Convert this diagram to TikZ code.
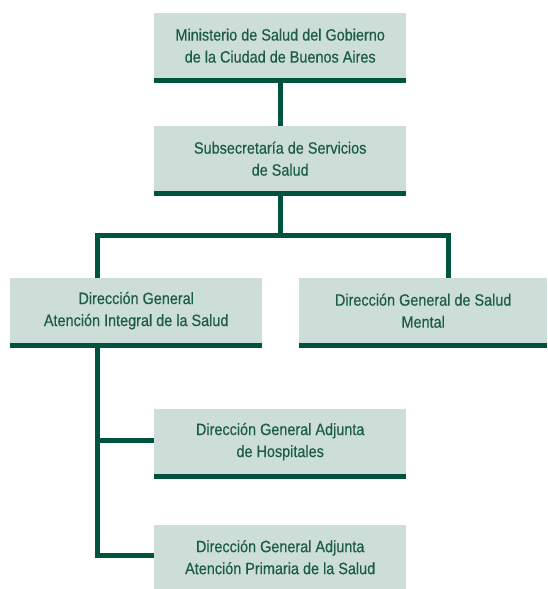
\documentclass[tikz,border=0pt]{standalone}
\usepackage{fontspec}
\setmainfont{Liberation Sans}[FakeStretch=0.88,FakeBold=0.4]
\definecolor{linegreen}{HTML}{00543F}
\definecolor{boxfill}{HTML}{CDDDD7}
\definecolor{textgreen}{HTML}{1A5C48}
\begin{document}
\begin{tikzpicture}[x=1pt,y=-1pt,
  orgbox/.style={fill=boxfill, inner sep=0pt, minimum width=252pt, minimum height=65pt,
    align=center, text=textgreen, font=\fontsize{16.4}{22}\selectfont, anchor=north west},
  bar/.style={draw=linegreen, line width=5pt},
  conn/.style={draw=linegreen, line width=5pt}]
\useasboundingbox (0,0) rectangle (547,589);
\node[orgbox] (b1) at (154,13) {Ministerio de Salud del Gobierno\\de la Ciudad de Buenos Aires};
\node[orgbox] (b2) at (154,126) {Subsecretaría de Servicios\\de Salud};
\node[orgbox, minimum width=252pt] (b3) at (10,278) {Dirección General\\Atención Integral de la Salud};
\node[orgbox, minimum width=248pt] (b4) at (299,278) {Dirección General de Salud\\Mental};
\node[orgbox] (b5) at (154,409) {Dirección General Adjunta\\de Hospitales};
\node[orgbox, minimum height=64pt] (b6) at (154,525) {Dirección General Adjunta\\Atención Primaria de la Salud};
\foreach \b in {b1,b2,b3,b4,b5}{
  \draw[bar] ([yshift=-2.5pt]\b.south west) -- ([yshift=-2.5pt]\b.south east);
}
\coordinate (j1) at (280.5,235.5);
\coordinate (j3) at (97.5,440.5);
\coordinate (j4) at (97.5,555.5);
\draw[conn] ([yshift=-5pt]b1.south -| j1) -- (b2.north -| j1);
\draw[conn] ([yshift=-5pt]b2.south -| j1) -- (j1);
\draw[conn] (b3.north -| j3) |- (j1) -| ([xshift=-98.5pt]b4.north east);
\draw[conn] ([yshift=-5pt]b3.south -| j3) -- (j4) -- (j4 -| b6.west);
\draw[conn] (j3) -- (j3 -| b5.west);
\end{tikzpicture}
\end{document}
